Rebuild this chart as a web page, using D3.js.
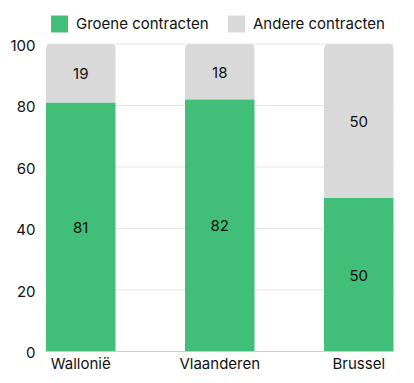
<!DOCTYPE html>
<html><head><meta charset="utf-8">
<script src="https://cdn.jsdelivr.net/npm/d3@7"></script>
<style>body{margin:0;background:#fff}svg{display:block}text{font-family:Inter,"Noto Sans",sans-serif}</style>
</head><body><svg id="c" width="414" height="383"></svg>
<script>
const categories = ["Wallonië", "Vlaanderen", "Brussel"];
const groen = [81, 82, 50];
const andere = [19, 18, 50];
const seriesNames = ["Groene contracten", "Andere contracten"];
const seriesColors = ["#41BF78", "#D9D9D9"];
const yTicks = [0, 20, 40, 60, 80, 100];

const svg = d3.select("#c");
const x = d3.scaleBand().domain(categories).range([46, 393.5]).paddingInner(0.5).paddingOuter(0);
const y = d3.scaleLinear().domain([0, 100]).range([351.5, 44]);
const fs = 15;

// gridlines
svg.append("g").selectAll("line").data(yTicks.filter(d => d > 0)).join("line")
  .attr("x1", 46).attr("x2", 394).attr("y1", d => y(d)).attr("y2", d => y(d))
  .attr("stroke", "#e6e6e6").attr("stroke-width", 1);

// y axis labels
const yAxis = d3.axisLeft(y).tickValues(yTicks).tickSize(0).tickPadding(0);
const ga = svg.append("g").attr("transform", "translate(35.5,0)").call(yAxis);
ga.select(".domain").remove();
ga.selectAll("text").attr("font-size", fs).attr("fill", "#111").attr("font-family", "Inter,sans-serif").attr("dy", "0.4em");

const data = categories.map((c, i) => ({c, g: groen[i], a: andere[i]}));
const bw = x.bandwidth(), r = 5;

function topRounded(x0, y0, w, h, r) {
  return `M${x0},${y0 + h}V${y0 + r}Q${x0},${y0} ${x0 + r},${y0}H${x0 + w - r}Q${x0 + w},${y0} ${x0 + w},${y0 + r}V${y0 + h}Z`;
}

const bars = svg.append("g");
data.forEach(d => {
  const x0 = x(d.c);
  bars.append("rect").attr("x", x0).attr("y", y(d.g)).attr("width", bw)
    .attr("height", y(0) - y(d.g)).attr("fill", seriesColors[0]);
  bars.append("path").attr("d", topRounded(x0, y(d.g + d.a), bw, y(d.g) - y(d.g + d.a), r))
    .attr("fill", seriesColors[1]);
  bars.append("text").attr("x", x0 + bw / 2).attr("y", (y(0) + y(d.g)) / 2).attr("dy", "0.4em")
    .attr("text-anchor", "middle").attr("font-size", fs).attr("fill", "#111").text(d.g);
  bars.append("text").attr("x", x0 + bw / 2).attr("y", (y(d.g) + y(d.g + d.a)) / 2).attr("dy", "0.4em")
    .attr("text-anchor", "middle").attr("font-size", fs).attr("fill", "#111").text(d.a);
});

// baseline
svg.append("line").attr("x1", 46).attr("x2", 394).attr("y1", y(0)).attr("y2", y(0))
  .attr("stroke", "#cccccc").attr("stroke-width", 1);

// x axis labels
const xAxis = d3.axisBottom(x).tickSize(0).tickPadding(0);
const gx = svg.append("g").attr("transform", `translate(0,${y(0) + 7})`).call(xAxis);
gx.select(".domain").remove();
gx.selectAll("text").attr("font-size", fs).attr("fill", "#111").attr("font-family", "Inter,sans-serif").attr("dy", "0.71em");

// legend
const legendX = [51, 228];
seriesNames.forEach((n, i) => {
  svg.append("rect").attr("x", legendX[i]).attr("y", 15.5).attr("width", 17).attr("height", 17).attr("fill", seriesColors[i]);
  svg.append("text").attr("x", legendX[i] + 25).attr("y", 24).attr("dy", "0.35em")
    .attr("font-size", fs).attr("fill", "#111").text(n);
});
</script></body></html>
